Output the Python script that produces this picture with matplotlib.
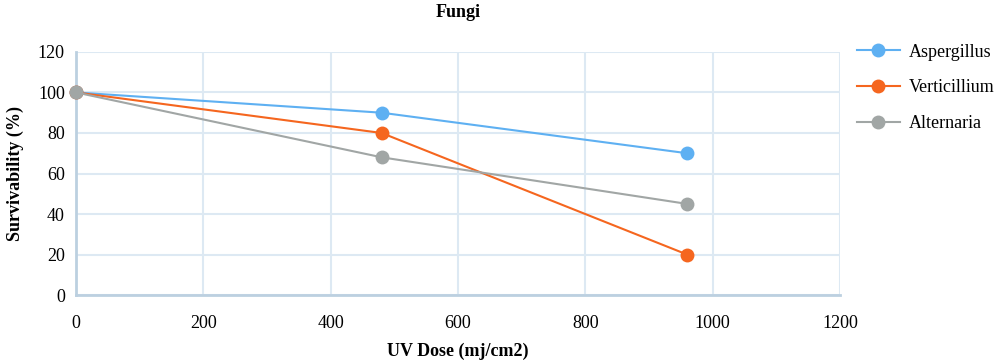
import matplotlib
matplotlib.use("Agg")
import matplotlib.pyplot as plt
from matplotlib.lines import Line2D

# Data
dose = [0, 480, 960]
aspergillus = [100, 90, 70]
verticillium = [100, 80, 20]
alternaria = [100, 68, 45]

series_names = ["Aspergillus", "Verticillium", "Alternaria"]
colors = ["#5eb0f2", "#f5661f", "#a1a6a5"]
x_ticks = [0, 200, 400, 600, 800, 1000, 1200]
y_ticks = [0, 20, 40, 60, 80, 100, 120]

plt.rcParams["font.family"] = ["Liberation Serif", "DejaVu Serif"]

fig = plt.figure(figsize=(10, 3.63), dpi=100)
ax = fig.add_axes([0.076, 0.187, 0.764, 0.670])

for ys, col, name in zip([aspergillus, verticillium, alternaria], colors, series_names):
    ax.plot(dose, ys, color=col, lw=1.5, marker="o", markersize=10,
            markeredgewidth=0, label=name, clip_on=False, zorder=3)

ax.set_xlim(0, 1200)
ax.set_ylim(0, 120)
ax.set_xticks(x_ticks)
ax.set_yticks(y_ticks)
ax.grid(True, color="#dde9f3", lw=1.5)
ax.set_axisbelow(True)
for s in ["top", "right"]:
    ax.spines[s].set_visible(False)
for s in ["left", "bottom"]:
    ax.spines[s].set_color("#bcd0e0")
    ax.spines[s].set_linewidth(2)
ax.tick_params(length=0, labelsize=13, pad=8)
ax.tick_params(axis="x", pad=14)

ax.set_title("Fungi", fontsize=13, fontweight="bold", pad=25)
ax.set_xlabel("UV Dose (mj/cm2)", fontsize=13, fontweight="bold", labelpad=8)
ax.set_ylabel("Survivability (%)", fontsize=13, fontweight="bold", labelpad=10)

handles = [Line2D([], [], color=c, lw=1.5, marker="o", markersize=10, markeredgewidth=0)
           for c in colors]
fig.legend(handles, series_names, loc="upper left", bbox_to_anchor=(0.846, 0.91),
           frameon=False, fontsize=13, handlelength=2.4, labelspacing=1.05,
           handletextpad=0.5, borderaxespad=0.2)

fig.savefig("out.png", dpi=100)
